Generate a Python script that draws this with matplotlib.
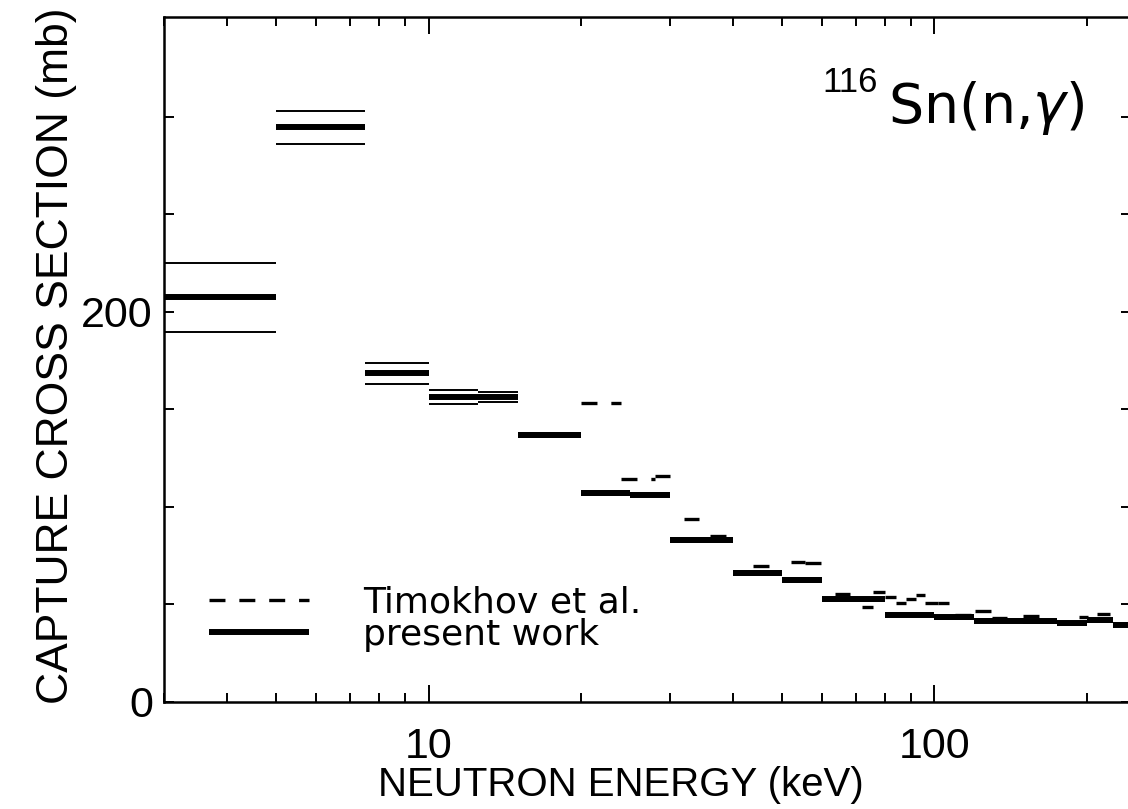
import numpy as np
import matplotlib

matplotlib.use("Agg")
import matplotlib.pyplot as plt
from matplotlib import font_manager
from matplotlib.ticker import FixedLocator, FuncFormatter, NullFormatter, LogLocator

# ── Data ─────────────────────────────────────────────────────────
# present work: energy bins (keV), cross section (mb), uncertainty (mb)
present_lo = [3, 5, 7.5, 10, 12.5, 15, 20, 25, 30, 40, 50, 60, 80, 100, 120, 150, 175, 200, 225]
present_hi = [5, 7.5, 10, 12.5, 15, 20, 25, 30, 40, 50, 60, 80, 100, 120, 150, 175, 200, 225, 250]
present_val = [207.3, 294.5, 168.5, 156.3, 156.2, 136.6, 107.0, 106.3, 83.2, 66.3, 62.6,
               52.6, 44.6, 43.3, 41.6, 41.3, 40.4, 41.8, 39.5]
present_err = [17.5, 8.4, 5.4, 3.4, 2.7, 1.0, 1.0, 1.0, 1.0, 1.0, 1.0,
               0.8, 0.8, 0.8, 0.8, 0.8, 0.8, 0.8, 0.8]

# Timokhov et al.
timo_lo = [20, 24, 28, 32, 36, 43.8, 52, 55.5, 63.5, 72, 75.7, 80, 84, 88, 92, 96, 101.5,
           110, 120.5, 130, 150, 193, 210]
timo_hi = [24, 28, 30, 34.3, 39, 47.2, 55.5, 60, 68, 75.7, 80, 84, 88, 92, 96, 101.5, 107,
           120, 130, 139, 161, 201, 222]
timo_val = [153.3, 114.2, 116.0, 93.6, 85.0, 69.9, 71.5, 71.0, 55.3, 48.9, 56.1, 54.0, 50.6,
            53.0, 54.9, 50.9, 50.9, 44.6, 46.8, 43.2, 43.8, 43.7, 44.9]

y_ticks = [0, 50, 100, 150, 200, 250, 300]
y_labelled = [0, 200]


def have_font(name):
    try:
        font_manager.findfont(name, fallback_to_default=False)
        return True
    except Exception:
        return False


narrow = have_font("Liberation Sans Narrow")
label_family = "Liberation Sans Narrow" if narrow else "Liberation Sans"
label_size = 35 if narrow else 29

plt.rcParams["lines.scale_dashes"] = False

fig = plt.figure(figsize=(11.28, 8.09), dpi=100)
ax = fig.add_axes([0.1454, 0.1323, 0.8575, 0.8467])
ax.set_xscale("log")
ax.set_xlim(3, 245)
ax.set_ylim(0, 351)

lo = np.array(present_lo)
hi = np.array(present_hi)
val = np.array(present_val)
err = np.array(present_err)

# thin uncertainty lines, then the thick result bars
ax.hlines(val + err, lo, hi, colors="black", linewidth=1.4, zorder=2)
ax.hlines(val - err, lo, hi, colors="black", linewidth=1.4, zorder=2)
ax.hlines(val, lo, hi, colors="black", linewidth=4.3, zorder=3, label="present work")

ax.hlines(timo_val, timo_lo, timo_hi, colors="black", linewidth=2.4,
          linestyles=[(0, (11.5, 10))], zorder=4, label="Timokhov et al.")

# ── Axes styling ────────────────────────────────────────────────
for sp in ax.spines.values():
    sp.set_linewidth(1.8)

ax.xaxis.set_major_locator(LogLocator(base=10, numticks=10))
ax.xaxis.set_minor_locator(LogLocator(base=10, subs=np.arange(2, 10), numticks=20))
ax.xaxis.set_major_formatter(FuncFormatter(lambda v, p: f"{v:g}"))
ax.xaxis.set_minor_formatter(NullFormatter())
ax.yaxis.set_major_locator(FixedLocator(y_ticks))
ax.yaxis.set_major_formatter(FuncFormatter(lambda v, p: f"{v:g}" if v in y_labelled else ""))

ax.tick_params(which="both", direction="in", top=True, right=True, width=1.4)
ax.tick_params(axis="x", which="major", length=12, pad=18)
ax.tick_params(axis="x", which="minor", length=6.5)
ax.tick_params(axis="y", which="major", length=7.5, pad=8)
for lab in ax.get_xticklabels() + ax.get_yticklabels():
    lab.set_fontfamily("Liberation Sans")
    lab.set_fontsize(31)

ax.set_xlabel("NEUTRON ENERGY (keV)", fontfamily=label_family, fontsize=label_size)
ax.set_ylabel("CAPTURE CROSS SECTION (mb)", fontfamily=label_family, fontsize=label_size + 3)
ax.xaxis.set_label_coords(0.472, -0.093)
ax.yaxis.set_label_coords(-0.09, 0.505)

# reaction label
ax.text(0.738, 0.89, "116", transform=ax.transAxes, ha="right", va="baseline",
        fontfamily="Liberation Sans", fontsize=25)
ax.text(0.748, 0.845, r"Sn(n,$\gamma$)", transform=ax.transAxes, ha="left", va="baseline",
        fontfamily="DejaVu Sans", fontsize=40)

handles, labels = ax.get_legend_handles_labels()
order = [labels.index("Timokhov et al."), labels.index("present work")]
leg = ax.legend([handles[i] for i in order], [labels[i] for i in order],
                loc="upper left", bbox_to_anchor=(0.047, 0.17), frameon=False,
                prop={"family": "DejaVu Sans", "size": 26}, handlelength=2.75,
                handletextpad=1.5, labelspacing=-0.05, borderpad=0, borderaxespad=0)

fig.savefig("out.png", dpi=100)
